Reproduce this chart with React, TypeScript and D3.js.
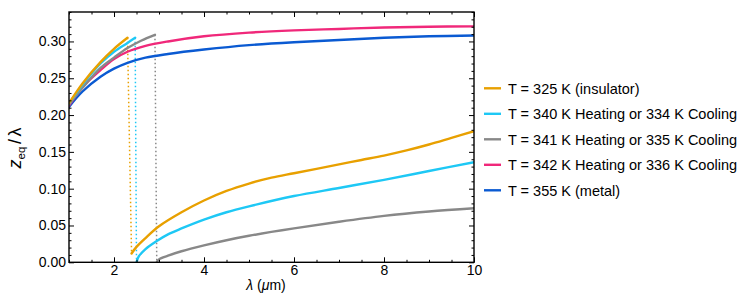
import React, {useEffect, useRef} from "react";
import * as d3 from 'd3';

const WIDTH = 747;
const HEIGHT = 297;
const LEFT = 69;
const RIGHT = 474;
const TOP = 12;
const BOTTOM = 262.3;
const FONT = "'Liberation Sans', Arial, Helvetica, sans-serif";

// [lambda (um), z_eq / lambda]
const orangeUpper = [[1, 0.216], [1.3, 0.243], [1.7, 0.272], [2.0, 0.290], [2.3, 0.305]];
const orangeLower = [[2.39, 0.012], [2.5, 0.021], [2.7, 0.033], [3.0, 0.049], [3.5, 0.068], [4, 0.084],
    [4.5, 0.097], [5, 0.107], [5.5, 0.115], [6, 0.121], [6.5, 0.127], [7, 0.133], [7.5, 0.139],
    [8, 0.145], [8.5, 0.152], [9, 0.160], [9.5, 0.169], [10, 0.178]];
const cyanUpper = [[1, 0.215], [1.3, 0.241], [1.7, 0.270], [2.0, 0.286], [2.3, 0.298], [2.47, 0.305]];
const cyanLower = [[2.5, 0.0], [2.55, 0.008], [2.7, 0.018], [2.95, 0.029], [3.2, 0.038], [3.5, 0.046],
    [4, 0.058], [4.5, 0.068], [5, 0.076], [6, 0.090], [7, 0.101], [8, 0.112], [9, 0.124], [10, 0.136]];
const grayUpper = [[1, 0.215], [1.3, 0.237], [1.7, 0.264], [2.0, 0.278], [2.3, 0.291], [2.6, 0.301], [2.91, 0.309]];
const grayLower = [[2.95, 0.0], [3.0, 0.004], [3.2, 0.009], [3.5, 0.015], [4, 0.023], [4.5, 0.030],
    [5, 0.036], [6, 0.046], [7, 0.055], [8, 0.063], [9, 0.069], [10, 0.0735]];
const pinkCurve = [[1, 0.213], [1.3, 0.238], [1.7, 0.261], [2.0, 0.276], [2.3, 0.286], [2.7, 0.294],
    [3.2, 0.300], [4, 0.307], [5, 0.312], [6, 0.315], [7, 0.317], [8, 0.319], [9, 0.320], [10, 0.3205]];
const blueCurve = [[1, 0.211], [1.3, 0.232], [1.7, 0.252], [2.0, 0.263], [2.3, 0.271], [2.7, 0.278],
    [3.2, 0.283], [4, 0.289], [5, 0.295], [6, 0.299], [7, 0.302], [8, 0.305], [9, 0.307], [10, 0.308]];

const legendLabels = [
    "T = 325 K (insulator)",
    "T = 340 K Heating or 334 K Cooling",
    "T = 341 K Heating or 335 K Cooling",
    "T = 342 K Heating or 336 K Cooling",
    "T = 355 K (metal)",
];
const colors = ["#E8A000", "#1EC8F5", "#888888", "#F0287A", "#0A5AD2"];

const xMajor = [2, 4, 6, 8, 10];
const yMajor = [0, 0.05, 0.10, 0.15, 0.20, 0.25, 0.30];

export default function App() {
    const ref = useRef(null);

    useEffect(() => {
        const svg = d3.select(ref.current);
        svg.selectAll('*').remove();

        const x = d3.scaleLinear().domain([1, 10]).range([LEFT, RIGHT]);
        const y = d3.scaleLinear().domain([0, 0.34]).range([BOTTOM, TOP]);
        const line = d3.line<number[]>()
            .x(d => x(d[0]))
            .y(d => y(d[1]))
            .curve(d3.curveCatmullRom.alpha(0.5));

        const xMinor = d3.range(1, 10.01, 0.5).filter(v => !xMajor.includes(v));
        const yMinor = d3.range(0, 0.341, 0.01).filter(v => !yMajor.some(m => Math.abs(m - v) < 1e-6));

        const plot = svg.append('g');
        plot.append('defs').append('clipPath').attr('id', 'clip')
            .append('rect').attr('x', LEFT).attr('y', TOP)
            .attr('width', RIGHT - LEFT).attr('height', BOTTOM - TOP);

        const curves = plot.append('g').attr('clip-path', 'url(#clip)');

        // dotted jumps between the two branches
        const jumps = [
            [orangeUpper[orangeUpper.length - 1], orangeLower[0], colors[0]],
            [cyanUpper[cyanUpper.length - 1], cyanLower[0], colors[1]],
            [grayUpper[grayUpper.length - 1], grayLower[0], colors[2]],
        ];
        jumps.forEach(([a, b, c]: any) => {
            curves.append('line')
                .attr('x1', x(a[0])).attr('y1', y(a[1]))
                .attr('x2', x(b[0])).attr('y2', y(b[1]))
                .attr('stroke', c).attr('stroke-width', 1.5)
                .attr('stroke-dasharray', '1.5,2.5');
        });

        const series: [number[][], string][] = [
            [blueCurve, colors[4]],
            [pinkCurve, colors[3]],
            [grayUpper, colors[2]],
            [grayLower, colors[2]],
            [cyanUpper, colors[1]],
            [cyanLower, colors[1]],
            [orangeUpper, colors[0]],
            [orangeLower, colors[0]],
        ];
        series.forEach(([d, c]) => {
            curves.append('path')
                .attr('d', line(d))
                .attr('fill', 'none')
                .attr('stroke', c)
                .attr('stroke-width', 2.4)
                .attr('stroke-linecap', 'round');
        });

        // axes, ticks pointing inward on all four sides
        const styleAxis = (g: any) => {
            g.select('.domain').remove();
            g.selectAll('line').attr('stroke', '#000').attr('stroke-width', 1);
            g.selectAll('text').attr('font-family', FONT).attr('font-size', 14).attr('fill', '#000');
        };
        const fmt = d3.format('.2f');

        plot.append('g').attr('transform', `translate(0,${BOTTOM})`)
            .call(d3.axisBottom(x).tickValues(xMajor).tickSize(-5).tickPadding(3).tickFormat(d3.format('d')))
            .call(styleAxis);
        plot.append('g').attr('transform', `translate(0,${BOTTOM})`)
            .call(d3.axisBottom(x).tickValues(xMinor).tickSize(-2.5).tickFormat(() => ''))
            .call(styleAxis);
        plot.append('g').attr('transform', `translate(0,${TOP})`)
            .call(d3.axisTop(x).tickValues(xMajor).tickSize(-5).tickFormat(() => ''))
            .call(styleAxis);
        plot.append('g').attr('transform', `translate(0,${TOP})`)
            .call(d3.axisTop(x).tickValues(xMinor).tickSize(-2.5).tickFormat(() => ''))
            .call(styleAxis);

        plot.append('g').attr('transform', `translate(${LEFT},0)`)
            .call(d3.axisLeft(y).tickValues(yMajor).tickSize(-5).tickPadding(3).tickFormat((v: any) => fmt(v)))
            .call(styleAxis);
        plot.append('g').attr('transform', `translate(${LEFT},0)`)
            .call(d3.axisLeft(y).tickValues(yMinor).tickSize(-2.5).tickFormat(() => ''))
            .call(styleAxis);
        plot.append('g').attr('transform', `translate(${RIGHT},0)`)
            .call(d3.axisRight(y).tickValues(yMajor).tickSize(-5).tickFormat(() => ''))
            .call(styleAxis);
        plot.append('g').attr('transform', `translate(${RIGHT},0)`)
            .call(d3.axisRight(y).tickValues(yMinor).tickSize(-2.5).tickFormat(() => ''))
            .call(styleAxis);

        plot.append('rect')
            .attr('x', LEFT).attr('y', TOP)
            .attr('width', RIGHT - LEFT).attr('height', BOTTOM - TOP)
            .attr('fill', 'none').attr('stroke', '#000').attr('stroke-width', 1.4);

        // axis labels
        const xl = svg.append('text')
            .attr('x', 266).attr('y', 290)
            .attr('text-anchor', 'middle')
            .attr('font-family', FONT).attr('font-size', 14);
        xl.append('tspan').attr('font-style', 'italic').text('λ');
        xl.append('tspan').text(' (');
        xl.append('tspan').attr('font-style', 'italic').text('μ');
        xl.append('tspan').text('m)');

        const yl = svg.append('text')
            .attr('transform', 'translate(21,148) rotate(-90)')
            .attr('text-anchor', 'middle')
            .attr('font-family', FONT).attr('font-size', 18);
        yl.append('tspan').attr('font-style', 'italic').text('z');
        yl.append('tspan').attr('font-size', 11.5).attr('dy', 3.5).text('eq');
        yl.append('tspan').attr('dy', -3.5).attr('dx', 2.5).text('/');
        yl.append('tspan').attr('dx', 2.5).text('λ');

        // legend
        const legend = svg.append('g');
        legendLabels.forEach((label, i) => {
            const cy = 88.3 + i * 25.5;
            legend.append('line')
                .attr('x1', 484).attr('x2', 501).attr('y1', cy).attr('y2', cy)
                .attr('stroke', colors[i]).attr('stroke-width', 2.4);
            legend.append('text')
                .attr('x', 508).attr('y', cy).attr('dy', '0.36em')
                .attr('font-family', FONT).attr('font-size', 14.5)
                .text(label);
        });
    }, []);

    return (
        <svg ref={ref} width={WIDTH} height={HEIGHT}
             style={{position: 'absolute', left: 0, top: 0, background: '#fff'}}/>
    );
}
